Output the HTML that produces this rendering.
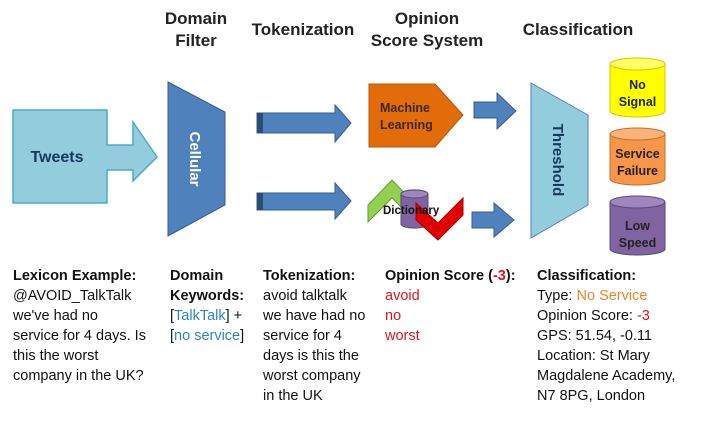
<!DOCTYPE html>
<html><head><meta charset="utf-8"><style>
body{margin:0;background:#fff;width:701px;height:421px;overflow:hidden;font-family:"Liberation Sans",sans-serif}
svg{position:absolute;left:0;top:0}
.col{position:absolute;top:266px;font-size:14.5px;line-height:20px;color:#111;white-space:nowrap}
b{font-weight:bold}
.r{color:#e0141e}.bl{color:#2e86c1}.o{color:#e8872a}
</style></head><body>
<svg width="701" height="421" font-family="Liberation Sans, sans-serif">
<g font-weight="bold" font-size="17" fill="#222" text-anchor="middle">
<text x="196" y="24">Domain</text><text x="196" y="46">Filter</text>
<text x="303" y="35">Tokenization</text>
<text x="427" y="24">Opinion</text><text x="427" y="46">Score System</text>
<text x="578" y="35">Classification</text>
</g>
<path d="M13 110H107V145H133V122L157 157L133 181V170H107V203H13Z" fill="#93cddd" stroke="#4bacc6" stroke-width="1.5"/>
<text x="57" y="162" font-size="16" font-weight="bold" fill="#17375e" text-anchor="middle">Tweets</text>
<path d="M168 82L225 112V205L168 236Z" fill="#4f81bd" stroke="#385d8a"/>
<text transform="translate(190,159) rotate(90)" font-size="15" font-weight="bold" fill="#fff" text-anchor="middle">Cellular</text>
<path d="M257 113H335V105L351 123L335 142V133H257Z" fill="#4f81bd" stroke="#385d8a"/>
<rect x="257" y="113" width="6" height="20" fill="#2c4d75"/>
<path d="M257 193H335V183L351 201L335 219V210H257Z" fill="#4f81bd" stroke="#385d8a"/>
<rect x="257" y="193" width="6" height="17" fill="#2c4d75"/>
<path d="M369 84H435L463 115L435 147H369Z" fill="#e36c0a" stroke="#b65708"/>
<text x="380" y="112" font-size="12.5" font-weight="bold" fill="#3a2a1a">Machine</text>
<text x="380" y="129" font-size="12.5" font-weight="bold" fill="#3a2a1a">Learning</text>
<path d="M474 102H497V93L516 111L497 129V118H474Z" fill="#4f81bd" stroke="#385d8a"/>
<path d="M472 212H494V203L514 220L494 237V228H472Z" fill="#4f81bd" stroke="#385d8a"/>
<path d="M368 205L392 180L416 205V222L392 198L368 222Z" fill="#92d050" stroke="#6a9a3a"/>
<path d="M401 194a13 4 0 0 1 27 0V224a13 4 0 0 1 -27 0Z" fill="#8064a2" stroke="#5c4776"/>
<ellipse cx="414.5" cy="194" rx="13.5" ry="4" fill="#9f86bd" stroke="#5c4776"/>
<path d="M416 203L438 223L463 198V215L438 240L416 220Z" fill="#e00000" stroke="#a00"/>
<text x="383" y="214" font-size="11.5" font-weight="bold" fill="#111">Dictionary</text>
<path d="M531 83L588 115V205L531 238Z" fill="#93cddd" stroke="#4f81bd"/>
<text transform="translate(553,160) rotate(90)" font-size="15" font-weight="bold" fill="#17375e" text-anchor="middle">Threshold</text>
<g font-size="12.5" font-weight="bold" text-anchor="middle">
<path d="M610 64V111a27.5 6 0 0 0 55 0V64Z" fill="#ffff00" stroke="#e0c000"/>
<ellipse cx="637.5" cy="64" rx="27.5" ry="6" fill="#ffff66" stroke="#e0c000"/>
<text x="637.5" y="89" fill="#222">No</text><text x="637.5" y="106" fill="#222">Signal</text>
<path d="M610 134V179a27.5 6 0 0 0 55 0V134Z" fill="#f79646" stroke="#c0702a"/>
<ellipse cx="637.5" cy="134" rx="27.5" ry="6" fill="#fab27a" stroke="#c0702a"/>
<text x="637.5" y="158" fill="#222">Service</text><text x="637.5" y="175" fill="#222">Failure</text>
<path d="M610 202V249a27.5 6 0 0 0 55 0V202Z" fill="#8064a2" stroke="#5c4776"/>
<ellipse cx="637.5" cy="202" rx="27.5" ry="6" fill="#9f86bd" stroke="#5c4776"/>
<text x="637.5" y="230" fill="#222">Low</text><text x="637.5" y="247" fill="#222">Speed</text>
</g>
</svg>
<div class="col" style="left:13px"><b>Lexicon Example:</b><br>@AVOID_TalkTalk<br>we've had no<br>service for 4 days. Is<br>this the worst<br>company in the UK?</div>
<div class="col" style="left:170px"><b>Domain</b><br><b>Keywords:</b><br>[<span class="bl">TalkTalk</span>] +<br>[<span class="bl">no service</span>]</div>
<div class="col" style="left:263px"><b>Tokenization:</b><br>avoid talktalk<br>we have had no<br>service for 4<br>days is this the<br>worst company<br>in the UK</div>
<div class="col" style="left:385px"><b>Opinion Score (<span class="r">-3</span>):</b><br><span class="r">avoid<br>no<br>worst</span></div>
<div class="col" style="left:537px"><b>Classification:</b><br>Type: <span class="o">No Service</span><br>Opinion Score: <span class="r">-3</span><br>GPS: 51.54, -0.11<br>Location: St Mary<br>Magdalene Academy,<br>N7 8PG, London</div>
</body></html>
